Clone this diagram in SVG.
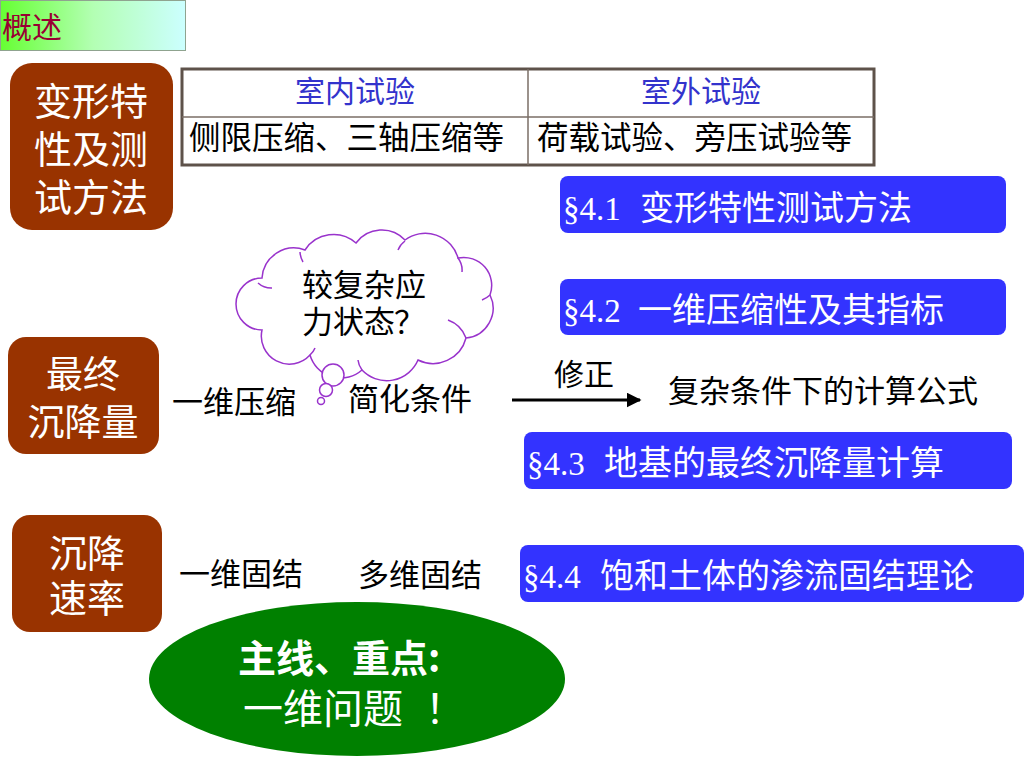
<svg xmlns="http://www.w3.org/2000/svg" width="1024" height="768" viewBox="0 0 1024 768">
<defs>
<linearGradient id="tg" x1="0" y1="0" x2="1" y2="0">
<stop offset="0" stop-color="#66ff33"/>
<stop offset="0.5" stop-color="#b3ffb3"/>
<stop offset="1" stop-color="#ccffff"/>
</linearGradient>
<marker id="ah" viewBox="0 0 10 10" refX="9" refY="5" markerWidth="5" markerHeight="5" orient="auto" markerUnits="strokeWidth">
<path d="M0,0 L10,5 L0,10 Z" fill="#000"/>
</marker>
<style>
.cjk{font-family:"Noto Sans CJK SC","Liberation Sans",sans-serif;}
.brown{fill:#993300;}
.blue{fill:#3333ff;}
.wt{fill:#fff;}
.bk{fill:#000;}
.sec{font-family:"Liberation Serif",serif;}
</style>
</defs>
<rect width="1024" height="768" fill="#fff"/>

<g id="title">
<rect x="0.5" y="0.5" width="185" height="50" fill="url(#tg)" stroke="#8fa38f" stroke-width="1"/>
<text x="2" y="38" class="cjk" font-size="30" fill="#990033">概述</text>
</g>

<g id="box-deform">
<rect x="10" y="63" width="163" height="167" rx="22" class="brown"/>
<text x="91" y="115" class="cjk wt" font-size="38" text-anchor="middle">变形特</text>
<text x="91" y="163" class="cjk wt" font-size="38" text-anchor="middle">性及测</text>
<text x="91" y="211" class="cjk wt" font-size="38" text-anchor="middle">试方法</text>
</g>

<g id="table">
<rect x="182" y="69" width="692" height="96" fill="#fff" stroke="#5e524a" stroke-width="3"/>
<line x1="182" y1="117" x2="874" y2="117" stroke="#7a6e66" stroke-width="1.5"/>
<line x1="528" y1="69" x2="528" y2="165" stroke="#7a6e66" stroke-width="1.5"/>
<text x="355" y="102" class="cjk" font-size="30" fill="#3333cc" text-anchor="middle">室内试验</text>
<text x="701" y="102" class="cjk" font-size="30" fill="#3333cc" text-anchor="middle">室外试验</text>
<text x="189" y="149" class="cjk bk" font-size="31.5">侧限压缩、三轴压缩等</text>
<text x="537" y="149" class="cjk bk" font-size="31.5">荷载试验、旁压试验等</text>
</g>

<g id="sec41">
<rect x="560" y="176" width="446" height="57" rx="8" class="blue"/>
<text x="563" y="220" class="wt" font-size="33"><tspan class="sec">§4.1</tspan><tspan class="cjk" x="640" font-size="34">变形特性测试方法</tspan></text>
</g>
<g id="sec42">
<rect x="560" y="279" width="446" height="56" rx="8" class="blue"/>
<text x="563" y="322" class="wt" font-size="33"><tspan class="sec">§4.2</tspan><tspan class="cjk" x="638" font-size="34">一维压缩性及其指标</tspan></text>
</g>
<g id="sec43">
<rect x="524" y="432" width="488" height="57" rx="8" class="blue"/>
<text x="527" y="475" class="wt" font-size="33"><tspan class="sec">§4.3</tspan><tspan class="cjk" x="604" font-size="34">地基的最终沉降量计算</tspan></text>
</g>
<g id="sec44">
<rect x="520" y="545" width="504" height="57" rx="8" class="blue"/>
<text x="523" y="588" class="wt" font-size="33"><tspan class="sec">§4.4</tspan><tspan class="cjk" x="600" font-size="34">饱和土体的渗流固结理论</tspan></text>
</g>

<g id="cloud">
<path d="M262,330 A24,24 0 0 1 262,278 A32,32 0 0 1 305,250 A34,34 0 0 1 356,243 A32,32 0 0 1 405,240 A34,34 0 0 1 458,258 A28,28 0 0 1 490,295 A30,30 0 0 1 466,338 A34,34 0 0 1 418,360 A34,34 0 0 1 362,370 A32,32 0 0 1 310,355 A28,28 0 0 1 262,330 Z" fill="#fff" stroke="#9933cc" stroke-width="1.5"/>
<path d="M258,283 A20,20 0 0 0 272,288 M300,252 A22,22 0 0 0 303,262 M405,241 A20,20 0 0 0 398,250 M458,258 A20,20 0 0 1 462,272 M490,295 A24,24 0 0 1 482,300 M466,338 A30,30 0 0 0 448,320 M362,370 A20,20 0 0 1 358,360 M310,355 A18,18 0 0 0 315,348" fill="none" stroke="#9933cc" stroke-width="1.5"/>
<circle cx="333" cy="375" r="11" fill="#fff" stroke="#9933cc" stroke-width="1.5"/>
<circle cx="326" cy="390" r="6.5" fill="#fff" stroke="#9933cc" stroke-width="1.5"/>
<circle cx="321" cy="401" r="3.5" fill="#fff" stroke="#9933cc" stroke-width="1.5"/>
<text x="302" y="296" class="cjk bk" font-size="31">较复杂应</text>
<text x="302" y="333" class="cjk bk" font-size="31">力状态<tspan x="394">？</tspan></text>
</g>

<g id="box-final">
<rect x="8" y="337" width="151" height="117" rx="18" class="brown"/>
<text x="83" y="388" class="cjk wt" font-size="37" text-anchor="middle">最终</text>
<text x="83" y="436" class="cjk wt" font-size="37" text-anchor="middle">沉降量</text>
</g>

<g id="box-rate">
<rect x="12" y="515" width="150" height="117" rx="18" class="brown"/>
<text x="87" y="567" class="cjk wt" font-size="38" text-anchor="middle">沉降</text>
<text x="87" y="612" class="cjk wt" font-size="38" text-anchor="middle">速率</text>
</g>

<g id="labels">
<text x="172" y="413" class="cjk bk" font-size="31">一维压缩</text>
<text x="348" y="410" class="cjk bk" font-size="31">简化条件</text>
<text x="554" y="385" class="cjk bk" font-size="30">修正</text>
<text x="668" y="402" class="cjk bk" font-size="31">复杂条件下的计算公式</text>
<text x="179" y="585" class="cjk bk" font-size="31">一维固结</text>
<text x="358" y="586" class="cjk bk" font-size="31">多维固结</text>
</g>

<g id="connectors">
<line x1="512" y1="400" x2="640" y2="400" stroke="#000" stroke-width="3" marker-end="url(#ah)"/>
</g>

<g id="mainline">
<ellipse cx="357" cy="679" rx="208" ry="77" fill="#008000"/>
<text x="238" y="672" class="cjk wt" font-size="38" font-weight="bold">主线、重点:</text>
<text x="243" y="723" class="cjk wt" font-size="40">一维问题<tspan x="425">！</tspan></text>
</g>
</svg>
